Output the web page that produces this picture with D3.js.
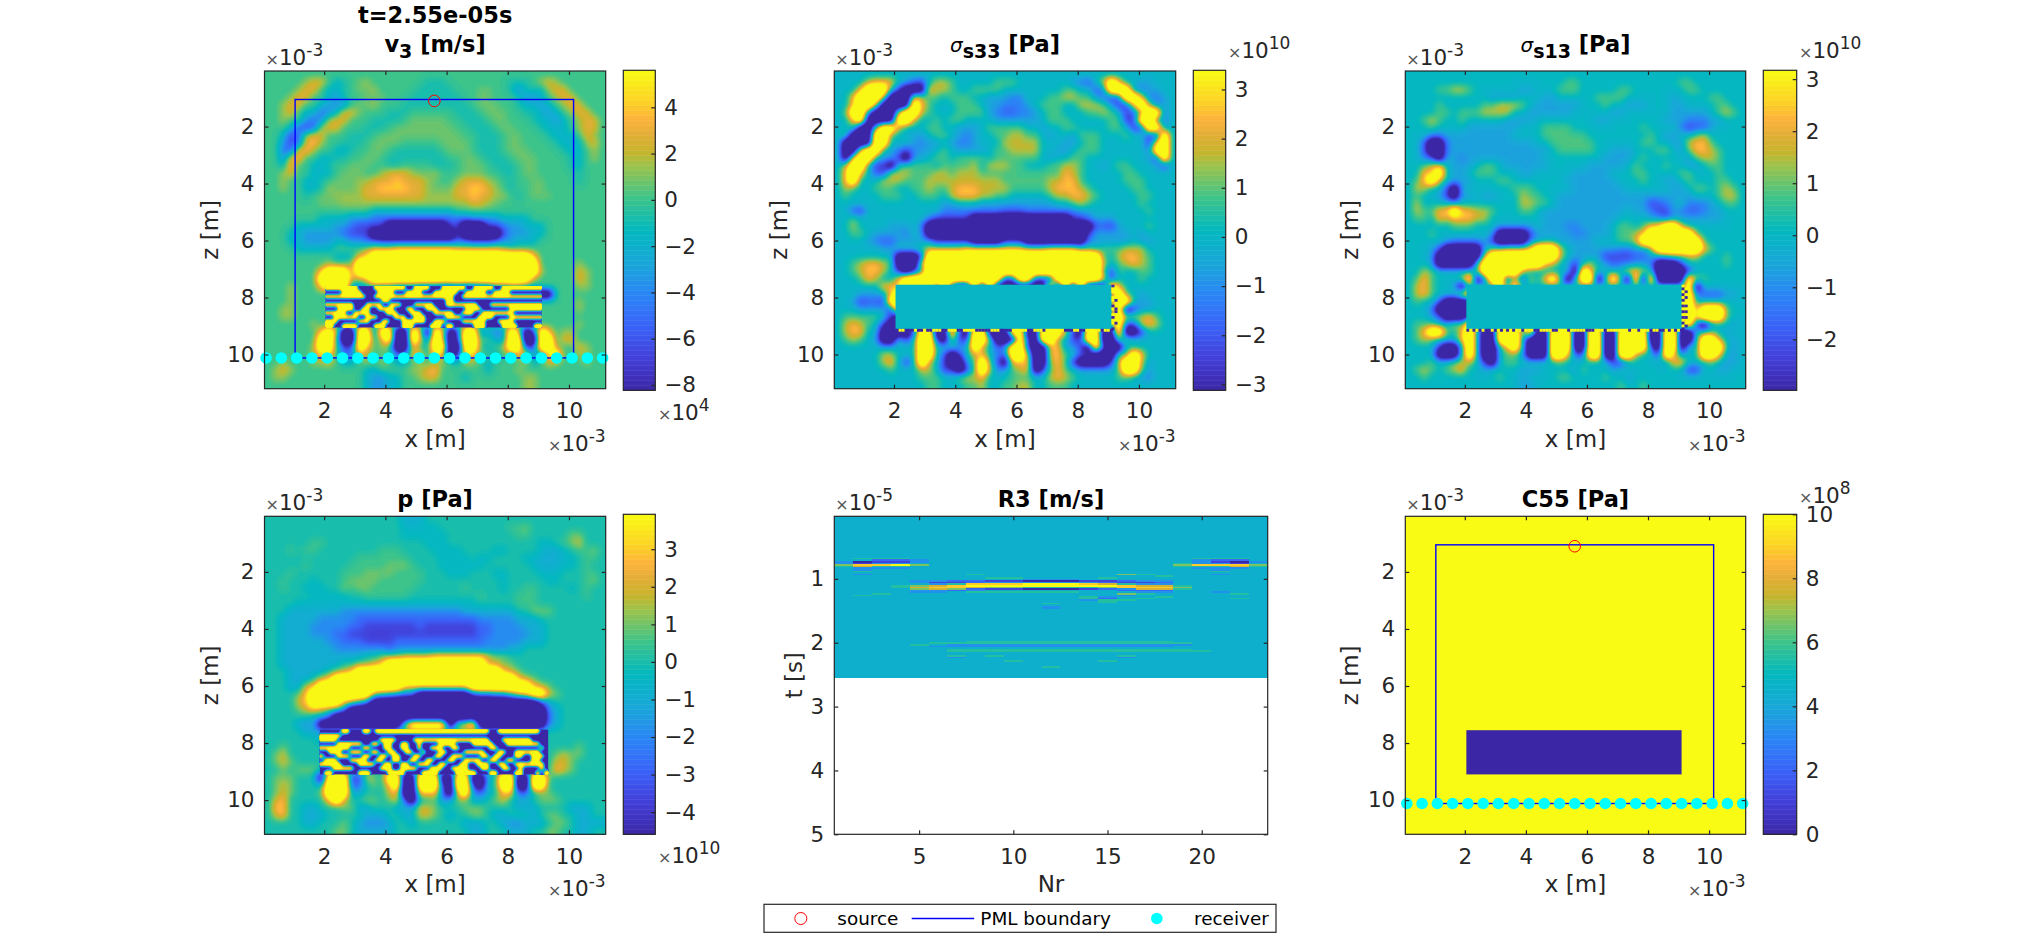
<!DOCTYPE html>
<html>
<head>
<meta charset="utf-8">
<script src="https://cdn.jsdelivr.net/npm/d3@7"></script>
<style>
body { margin: 0; background: #fff; }
text { font-family: "DejaVu Sans", sans-serif; fill: #262626; }
</style>
</head>
<body>
<svg id="fig" width="2031" height="938">
  <defs><filter id="rowSoft" x="0" y="0" width="1" height="1"><feGaussianBlur stdDeviation="0 0.4"/></filter></defs>
</svg>
<script>
// fields on a coarse grid, one digit a cell
// 0 = colour bar bottom, 5 = zero, 9 = colour bar top, a and b = 4.5 and 5.5
var v3Rows = [
"55555 55555 55555 55555 55555 55555 55555 55555 55555",
"55555 67754 a5b65 55555 5aaa5 55555 55aaa 56765 55555",
"55556 77544 a5bb6 55555 aaaaa 555bb 55a3a a4677 55555",
"55567 75543 a55bb b555a aaaaa a55bb 555a3 34567 75555",
"55677 55433 35bb6 555aa aaaaa aa5bb b55a4 43456 77555",
"55675 44234 77b55 5aaa5 55555 aaa5b bb55a a4345 67755",
"55655 32367 7555a aaa5b bbbb5 5aaa5 bb555 a4434 56775",
"55542 12677 555aa a5bbb bbbbb 55aaa 5bb55 5a444 56775",
"55412 67755 5aaa5 bbbbb bbbbb b55aa a5bb5 55a44 45765",
"55312 78655 aaa5b bbb55 555bb bb5aa a5bb5 555a4 44675",
"55227 86554 4a55b b5aaa aaa5b bb5aa a5bbb 5555a 44565",
"55378 5544a a55bb 5aaaa aaaa5 5bb5a aa5bb b5555 a4565",
"55485 544a5 5bbb5 5aa55 55aaa 5bbb5 aaa5b b5555 a4555",
"55675 54445 bbb55 67776 bb655 5bbb5 5aa5b b5555 5a555",
"55655 44a5b bb667 77877 76b55 67776 b5a55 bb555 5a555",
"55655 44a6b bb677 88887 76bbb 77887 65a55 bb555 55555",
"55555 a5bb6 66677 77777 76666 77877 665a5 bbb55 55555",
"55555 55bbb 66666 66666 66666 66776 b5555 55555 55555",
"55555 55555 55554 44444 44444 55555 55555 55555 55555",
"55555 55444 43332 22222 22222 22333 34444 55555 55555",
"55554 44443 32111 10000 00001 10001 12334 44555 55555",
"55544 33333 21110 00000 00000 10000 01333 44555 55555",
"55544 33334 43322 11111 11111 22111 23344 45555 55555",
"55554 44445 55567 77888 88888 77777 76555 55555 55555",
"55555 55554 44789 99999 99999 99999 99999 85555 55555",
"55555 55565 56999 99999 99999 99999 99999 95555 56555",
"55555 55899 96999 99999 99999 99999 99999 96555 57655",
"55555 55999 97689 99999 99999 99999 99999 65555 57655",
"55565 55899 93345 44333 22211 21122 44554 45555 56655",
"55565 55549 91110 01000 00000 00000 00000 00055 55555",
"55565 55555 55555 55555 55555 55555 55555 55555 56555",
"55665 55555 55555 55555 55555 55555 55555 55555 56555",
"55665 55555 55555 55555 55555 55555 55555 55555 55555",
"55555 56555 55555 55555 55555 55555 55555 55555 56555",
"55555 55897 00992 99009 80980 19934 23980 19856 65555",
"55555 55995 00994 79009 82980 19955 43990 09957 75555",
"55555 56995 11985 65008 54990 09954 56991 19965 57655",
"55555 56885 22765 56237 84880 18855 45578 33895 56655",
"55655 56675 44565 65445 65665 46654 55556 45765 55655",
"56765 55555 55544 55556 67855 55554 55565 55555 55555",
"56655 55555 55543 34455 67755 54555 55556 65555 55555",
"55555 55555 55543 34455 55555 55555 55556 65555 55555"
];
var v3Block = [
"999999 990000 999999 990099 990009 999990 099999 009999 999999",
"000099 999000 099990 009999 000999 999009 999900 999900 000000",
"999999 999900 999999 999999 999999 990099 999999 999999 999999",
"000000 000000 009900 000000 000000 990000 000000 000000 000000",
"999999 900099 990099 900099 999000 999999 990009 999999 999999",
"000999 900990 099990 009900 099900 000009 999000 000099 999999",
"999990 099990 000999 000999 000999 990099 900999 999990 000000",
"009999 990099 900009 990099 900000 999900 009999 000099 999999",
"999000 009990 009900 099999 900999 000099 999900 099990 000000",
"990099 990000 999000 099900 009990 990000 099900 009999 000099"
];
var s33Rows = [
"55555 55555 55555 55555 55555 55555 55555 55555 55555",
"55557 88854 21577 65555 56665 55555 54325 79855 44555",
"55589 99510 00877 65566 66555 55555 66552 39994 34455",
"55899 97000 87665 66655 44433 55566 77664 31299 83345",
"55899 70000 98655 56665 44333 45666 55777 64118 97345",
"56993 00079 97655 56666 43223 34566 55566 76512 79935",
"55890 00099 75565 66555 54444 44566 65555 56611 99535",
"55600 69975 55665 54445 66666 55455 66555 56651 19945",
"56000 99655 44566 54345 56677 66545 54666 55565 51195",
"50000 99555 43445 43345 55777 77555 44566 55555 51895",
"50089 95431 34456 54444 56677 77554 45666 55555 53995",
"50899 54410 44566 56666 56666 66545 56655 55555 54195",
"57995 11056 66656 66675 77766 55566 77655 45665 55415",
"58985 21777 66677 67776 66666 66666 87655 55566 55555",
"58955 57776 66777 77777 77666 66677 88655 55566 65555",
"57655 66655 66766 78887 77766 66678 88765 55556 65555",
"56555 56665 56665 78887 76655 55567 78876 55555 66555",
"55555 55555 55554 45554 44444 44445 56765 55555 65555",
"55215 55555 55553 33333 33222 33333 33445 55555 56555",
"55655 55555 55311 11100 00000 00000 01134 44555 55555",
"55755 55444 53000 00000 00000 00000 00002 21455 56555",
"55665 44443 54000 00000 00000 00000 00014 44445 45555",
"55554 32244 44411 11100 00111 00000 00034 44445 44555",
"55555 54455 56777 77888 88888 77788 88665 66677 75555",
"55555 55500 01999 99999 99999 99999 99999 65788 76555",
"55678 87600 07999 99999 99999 99999 99999 75678 76555",
"55678 87510 15999 99999 99999 99999 99999 61655 66555",
"55568 75589 99999 99999 99119 91119 99999 81555 65555",
"55555 58889 99929 20090 90000 00090 90900 09855 55555",
"55544 44895 55555 55555 55555 55555 55555 55965 45555",
"55412 21995 55555 55555 55555 55555 55555 55995 44555",
"55544 44195 55555 55555 55555 55555 55555 55901 44555",
"56666 65105 55555 55555 55555 55555 55555 55977 78655",
"57876 51005 55555 55555 55555 55555 55555 55911 78755",
"57885 50000 19900 91099 00099 00999 71099 00900 15555",
"56765 40051 59910 71199 60009 10996 51199 00665 55555",
"55555 54455 59955 54497 52399 10088 44109 10055 55555",
"55555 57755 59952 01578 53299 70088 65210 00669 85555",
"55555 57851 59751 00469 62088 80078 61000 01799 74555",
"55555 55655 57751 10169 73467 80168 65444 44699 64555",
"55555 55555 56665 56778 55566 65578 76555 55665 43555",
"55555 55555 55665 55667 55667 75566 65555 55555 55555"
];
var s33Bottom = "09900090090099900999009999000009990000999990099909999990009900999990990";
var s33RightA = "0995995095909950";
var s33RightB = "5955905500959055";
var s13Rows = [
"55555 55555 55555 55555 55555 55555 55555 55555 55555",
"55555 55555 55555 55555 56655 55555 55555 56655 55555",
"55556 67765 55555 44555 66655 55566 55555 55665 55555",
"55555 55555 54444 55544 55555 66665 55555 45555 66555",
"55556 55555 66777 65444 44455 56554 44555 44555 56655",
"55556 65666 77775 54444 44555 55445 55555 44444 56765",
"55676 55655 55544 44555 55555 44555 55554 44333 44555",
"55565 55544 44444 55566 66555 55555 56555 53122 45555",
"55533 44444 44445 55566 66665 55555 55654 45567 55555",
"55200 34444 44444 44556 66666 55555 56655 44788 65555",
"55200 34444 44444 44445 66666 55444 55566 54688 76555",
"55320 44344 44444 44455 55555 54444 56555 55467 76555",
"55678 54445 66544 44445 55554 44445 65556 55445 66555",
"55889 54456 66555 44555 55444 44555 66555 56655 56555",
"56897 54445 55665 55555 54444 44455 56554 45655 56655",
"57755 20455 55556 66555 55444 44445 55555 44566 56765",
"56554 10445 44555 76655 44444 44444 44444 44455 56775",
"57555 54555 55555 77665 44444 44444 44123 45333 45665",
"57668 89887 76555 66544 44444 44445 44311 43223 44555",
"56658 78887 75555 55544 44444 44455 55442 44444 44555",
"55555 56665 55444 44544 43344 44566 56889 97555 55555",
"55565 55555 54000 01444 44334 44566 78999 99965 55555",
"55555 43333 41000 03455 44444 55566 79999 99996 55555",
"55542 00000 46677 78999 75444 44433 44699 99998 65555",
"55540 00000 79999 99999 75444 41111 22445 66775 55655",
"55540 00005 99999 99987 54157 54233 44300 01555 55655",
"55765 55556 99999 75555 55098 55558 87500 00155 55555",
"56865 55690 39917 17589 60599 05950 90900 00966 55555",
"57865 54055 55959 55555 55555 55555 55555 55905 55555",
"57865 55895 55555 55555 55555 55555 55555 55932 22445",
"56552 00005 55555 55555 55555 55555 55555 55955 55555",
"55530 00005 55555 55555 55555 55555 55555 55979 99655",
"55542 00015 55555 55555 55555 55555 55555 55989 99655",
"56665 57695 55555 55555 55555 55555 55555 55910 45545",
"56899 65895 00999 59009 99009 90099 99009 90055 65455",
"56765 55895 00999 50009 99009 90099 99009 90059 97545",
"55551 00595 00589 50009 99009 90099 99109 90559 99545",
"55550 00595 00566 40009 98229 90099 75519 84559 98445",
"55565 56775 10566 55555 65555 55115 55554 88555 65445",
"56765 67855 45555 44455 55465 55455 55555 55115 54455",
"55655 55555 55655 45555 66555 56554 55555 55555 55555",
"55555 55555 55555 44555 55555 55565 56555 55555 55555"
];
var s13Bottom = "09090900909090909909990099990099909999900099909999999099099909900909090";
var s13RightA = "9090909090909090";
var s13RightB = "5909059090905905";
var pRows = [
"55555 55555 55555 55544 45555 55555 55555 55555 55555",
"55555 55555 55555 555aa aaa55 55555 55bb6 55555 55555",
"55555 55555 55555 555aa aaaa5 55555 555bb 55555 66555",
"55555 5bb55 55555 55555 5aaa5 55555 55555 5aa5b 67555",
"555b5 bb555 55555 bbb55 55aaa a5555 aa555 5a44a 5bb65",
"55555 55555 55bbb bbbb5 555aa aa5aa 5555a a444a a5bb5",
"55555 b5555 5bbbb b666b 555aa aaaa5 55555 a444a a5b55",
"555b5 55555 bbb66 66bbb b555a aa555 aa555 5aaa5 55bb5",
"55b55 5a555 b6666 bbbbb b5555 55555 5a555 55aa5 55b65",
"55b55 aaa55 6b66b bbbbb 55555 5b555 5a55b b5555 a5b55",
"55555 5aaaa a55bb bbbb5 55555 555b5 555bb b5555 55b55",
"5555a aaaaa aaaaa aaaaa aaaaa aaa55 555bb b5555 55555",
"55544 44444 33333 33333 33333 34444 44455 66655 55555",
"55444 44333 33222 22222 22222 22233 33344 45555 55555",
"55444 43333 32211 11111 21111 11122 33334 44555 55555",
"55444 43332 21111 11111 11111 11122 33333 44555 55555",
"55444 44433 22211 11222 22222 22223 33334 44555 55555",
"55444 44443 33333 32333 33333 33333 33445 55555 55555",
"55444 44444 44455 66677 77888 88887 66555 55555 55555",
"55444 44444 55667 89999 99999 99997 76655 55555 55555",
"55544 44456 78999 99999 99999 99999 98765 55555 55555",
"55544 45789 99999 99999 99999 99999 99987 65555 55555",
"55544 78999 99999 99988 88888 88999 99999 87655 55555",
"55556 89999 99996 54322 00000 00122 33578 99765 55555",
"55557 89999 87530 00000 00000 00000 00000 02455 55555",
"55556 78765 30000 00000 00000 00000 00000 00345 55555",
"55555 54420 00000 00000 00000 00000 00000 00245 55555",
"55554 34000 00000 00069 99990 78900 00000 00345 55555",
"55555 44455 55555 55555 55555 55555 55555 55555 55555",
"55555 55455 55555 55555 55555 55555 55555 55555 55555",
"55655 55555 55555 55555 55555 55555 55555 55555 56555",
"56755 55555 55555 55555 55555 55555 55555 55567 66555",
"56765 55555 55555 55555 55555 55555 55555 55577 65555",
"55656 66555 55555 55555 55555 55555 55555 55587 65555",
"56665 55099 91176 59900 99900 99004 59900 99655 55555",
"56765 55499 92256 58900 99910 99105 59900 99555 55555",
"56765 55699 94455 57800 88820 89324 58822 56655 55555",
"57855 55589 75566 56720 55634 66445 67544 56665 55555",
"58855 44555 66445 55444 77655 56665 55544 45555 44455",
"57855 44455 55544 45544 77654 55665 44555 45665 54455",
"55555 44555 65433 34554 55555 54445 54334 44566 54444",
"55555 55556 65444 44555 55555 55445 55444 55665 54455"
];
var pBlock = [
"000009 900099 099999 999999 999999 999999 999900 999999 999900",
"999990 000000 000000 000000 000000 000000 000000 000000 000000",
"999900 000000 009999 000099 999999 999999 999900 099999 990000",
"000099 999900 990990 099009 000099 990000 999990 009999 999900",
"999999 900099 000990 099009 009990 099000 000099 000000 000090",
"009990 099900 990099 009900 900099 000099 999000 990099 999900",
"900099 900099 009909 900099 000990 099900 009909 900099 009990",
"099900 099990 099009 900990 099000 990099 990099 009900 009900",
"999990 000999 900990 099009 990099 000990 099900 990099 999990",
"000999 990000 009990 099990 009990 099990 009900 099009 000090",
"099000 000999 000099 990000 999900 009999 900099 000099 000909"
];
// receiver traces, digit = tenth of the colour range, columns are Nr 1..23
var q = "44444 44444 44444 44444 444";
var r3Rows = [
q, q, q, q, q, q, q, q, q, q, q, q, q, q, q, q, q, q, q, q, q, q, q, q, q, q,
"45554 44444 44444 44445 554",
"44223 44444 44444 44443 224",
"30113 44444 44444 44443 103",
"31334 44444 44444 44453 314",
"68896 44444 44444 44468 886",
"57554 44444 44444 44455 575",
"43334 44444 44444 44443 334",
"43444 44444 44444 44444 344",
"45444 44444 44444 44444 544",
"44444 44444 44444 44444 444",
"43444 44544 44444 65444 344",
"44444 44444 44444 44544 444",
"44444 44455 44445 44444 444",
"44444 44444 33344 44444 444",
"44443 32211 00011 23344 444",
"44443 11233 33332 11244 444",
"44444 35888 99987 53344 444",
"44456 78999 99999 87754 444",
"44457 88766 55556 88864 444",
"44446 76211 00012 37754 444",
"44443 32344 44444 22244 444",
"44443 34555 55544 43344 344",
"44544 44444 44444 65444 454",
"45444 44444 44444 34444 444",
"44444 44444 44453 44544 444",
"44444 44444 44452 45444 454",
"44444 44444 44435 54444 444",
"44444 44444 44445 44444 444",
"44444 44444 45444 44444 444",
"44444 44444 44444 44444 444",
"44444 44444 43444 44444 444",
"44444 44444 43444 44444 444",
q, q, q, q, q, q, q, q, q, q, q, q, q, q, q, q, q, q, q, q,
"44444 44555 55555 55544 444",
"44444 55555 55555 55554 444",
"44445 43333 33333 33334 444",
"44444 33333 33333 33344 444",
q,
"44444 45555 55555 55554 444",
"44444 45555 55555 55555 444",
q,
q,
"44444 45454 44444 54444 444",
"44444 43444 44444 34444 444",
q,
"44444 44445 44445 44444 444",
q, q, q,
"44444 44444 45444 44444 444",
q, q, q, q, q, q
];

var v3Limits = [-8.23, 5.6];
var s33Limits = [-3.12, 3.39];
var s13Limits = [-2.98, 3.17];
var pLimits = [-4.59, 3.93];
var c55Limits = [0, 10];

var xDomain = [0.05, 11.2];
var zDomain = [0.05, 11.2];
var gridTicks = [2, 4, 6, 8, 10];
var nrDomain = [0.5, 23.5];
var nrTicks = [5, 10, 15, 20];
var tDomain = [0.02, 5];
var tTicks = [1, 2, 3, 4, 5];
var tStart = 0.02;
var tStep = 0.025;

var receiverX = [0.1, 0.6, 1.1, 1.6, 2.1, 2.6, 3.1, 3.6, 4.1, 4.6, 5.1, 5.6, 6.1, 6.6, 7.1, 7.6, 8.1, 8.6, 9.1, 9.6, 10.1, 10.6, 11.1];
var receiverZ = 10.12;
var sourceX = 5.6;
var sourceZ = 1.1;
var pmlX = [1.05, 10.15];
var pmlZ = [1.05, 10.12];
var blockX = [2.05, 9.1];
var blockZ = [7.55, 9.1];
var edgeStep = 0.1;

var parulaStops = [0, 0.1, 0.2, 0.3, 0.4, 0.5, 0.6, 0.7, 0.75, 0.8, 0.85, 0.9, 1];
var parulaColors = ["#3b27a5", "#433fd8", "#3a63f8", "#2a85f5", "#18a8d8", "#03b8bf", "#3cc48c", "#9bc34d", "#c9b42c", "#e3ae38", "#fdb33b", "#fcd126", "#f9fb14"];
var parula = d3.scaleLinear().domain(parulaStops).range(parulaColors).clamp(true);

var svg = d3.select("#fig");
var textColor = "#262626";
var tickFont = 21.5;
var labelFont = 23;
var titleFont = 22.5;
var powerFont = 17;
var halfDigits = { a: 4.5, b: 5.5 };

function clean(rows) {
  return rows.map(function(r) { return r.replace(/ /g, ""); });
}

// saturated cells run past the colour limits in the original, hence the 1.8
function digitValue(c, limits) {
  var d = c in halfDigits ? halfDigits[c] : +c;
  if (d == 0) return limits[0] * 1.8;
  if (d == 9) return limits[1] * 1.8;
  return d < 5 ? limits[0] * (5 - d) / 5 : limits[1] * (d - 5) / 4;
}

// smooth shading of the cells: each cell repeated, blurred, then isobands
function drawField(g, rows, x, z, xr, zr, limits, soft) {
  rows = clean(rows);
  var f = 3;
  var n = rows[0].length, m = rows.length;
  var nf = n * f, mf = m * f;
  var values = new Float64Array(nf * mf);
  for (var j = 0; j < mf; j++) {
    var r = rows[Math.floor(j / f)];
    for (var i = 0; i < nf; i++) values[j * nf + i] = digitValue(r[Math.floor(i / f)] || "5", limits);
  }
  if (d3.blur2) d3.blur2({ data: values, width: nf, height: mf }, soft);
  var levels = d3.range(0, 64).map(function(i) { return limits[0] + i / 64 * (limits[1] - limits[0]); });
  var contours = d3.contours().size([nf, mf]).thresholds(levels)(values);
  var proj = d3.geoTransform({
    point: function(a, b) {
      this.stream.point(x(xr[0] + a / nf * (xr[1] - xr[0])), z(zr[0] + b / mf * (zr[1] - zr[0])));
    }
  });
  var path = d3.geoPath(proj);
  g.append("rect").attr("x", x(xr[0])).attr("y", z(zr[0]))
    .attr("width", x(xr[1]) - x(xr[0])).attr("height", z(zr[1]) - z(zr[0]))
    .attr("fill", parula(0));
  g.append("g").selectAll("path").data(contours).enter().append("path")
    .attr("d", path)
    .attr("fill", function(d, i) { return parula((i + 0.5) / 64); });
}

// flat block where the shear stress is zero, with its stair-step rim
function drawBlock(g, s, limits, bottom, rightA, rightB) {
  g.append("rect").attr("x", s.x(blockX[0])).attr("y", s.z(blockZ[0]))
    .attr("width", s.x(blockX[1]) - s.x(blockX[0])).attr("height", s.z(blockZ[1]) - s.z(blockZ[0]))
    .attr("fill", parula(d3.scaleLinear().domain(limits)(0)));
  var rim = [];
  bottom.split("").forEach(function(c, i) { rim.push({ x: blockX[0] + i * edgeStep, z: blockZ[1], c: c }); });
  rightA.split("").forEach(function(c, i) { rim.push({ x: blockX[1], z: blockZ[0] + i * edgeStep, c: c }); });
  rightB.split("").forEach(function(c, i) { rim.push({ x: blockX[1] + edgeStep, z: blockZ[0] + i * edgeStep, c: c }); });
  g.append("g").selectAll("rect").data(rim.filter(function(d) { return d.c != "5"; })).enter().append("rect")
    .attr("x", function(d) { return s.x(d.x); })
    .attr("y", function(d) { return s.z(d.z); })
    .attr("width", s.x(edgeStep) - s.x(0))
    .attr("height", s.z(edgeStep) - s.z(0))
    .attr("fill", function(d) { return parula(+d.c / 9); });
}

function sciLabel(g, px, py, power, anchor) {
  var t = g.append("text").attr("x", px).attr("y", py).attr("text-anchor", anchor || "start").style("font-size", tickFont + "px");
  t.append("tspan").text("\u00d7").style("font-size", "16px").style("fill", "#555");
  t.append("tspan").text("10");
  t.append("tspan").text(power).attr("dy", -9).style("font-size", powerFont + "px");
}

function drawAxes(g, box, x, z, xTicks, zTicks) {
  g.append("rect").attr("x", box.x).attr("y", box.y).attr("width", box.w).attr("height", box.h)
    .attr("fill", "none").attr("stroke", textColor).attr("stroke-width", 1.2);
  var bottom = g.append("g").attr("transform", "translate(0," + (box.y + box.h) + ")")
    .call(d3.axisBottom(x).tickValues(xTicks).tickSize(-4).tickSizeOuter(0).tickPadding(14).tickFormat(d3.format("d")));
  var left = g.append("g").attr("transform", "translate(" + box.x + ",0)")
    .call(d3.axisLeft(z).tickValues(zTicks).tickSize(-4).tickSizeOuter(0).tickPadding(10).tickFormat(d3.format("d")));
  var top = g.append("g").attr("transform", "translate(0," + box.y + ")")
    .call(d3.axisTop(x).tickValues(xTicks).tickSize(-4).tickSizeOuter(0).tickFormat(""));
  var right = g.append("g").attr("transform", "translate(" + (box.x + box.w) + ",0)")
    .call(d3.axisRight(z).tickValues(zTicks).tickSize(-4).tickSizeOuter(0).tickFormat(""));
  [bottom, left, top, right].forEach(function(a) {
    a.select(".domain").remove();
    a.selectAll("line").attr("stroke", textColor).attr("stroke-width", 1.2);
    a.selectAll("text").style("font-size", tickFont + "px").style("font-family", "DejaVu Sans").style("fill", textColor);
  });
  top.selectAll("text").remove();
  right.selectAll("text").remove();
}

function drawColorbar(g, bar, limits, ticks, power, powerAt) {
  var c = d3.scaleLinear().domain(limits).range([bar.y + bar.h, bar.y]);
  var steps = d3.range(0, 64);
  g.append("g").selectAll("rect").data(steps).enter().append("rect")
    .attr("x", bar.x).attr("width", bar.w)
    .attr("y", function(i) { return bar.y + bar.h - (i + 1) / 64 * bar.h; })
    .attr("height", bar.h / 64 + 0.5)
    .attr("fill", function(i) { return parula((i + 0.5) / 64); });
  g.append("rect").attr("x", bar.x).attr("y", bar.y).attr("width", bar.w).attr("height", bar.h)
    .attr("fill", "none").attr("stroke", textColor).attr("stroke-width", 1.2);
  var ax = g.append("g").attr("transform", "translate(" + (bar.x + bar.w) + ",0)")
    .call(d3.axisRight(c).tickValues(ticks).tickSize(-4).tickSizeOuter(0).tickPadding(9).tickFormat(d3.format("d")));
  ax.select(".domain").remove();
  ax.selectAll("line").attr("stroke", textColor).attr("stroke-width", 1.2);
  ax.selectAll("text").style("font-size", tickFont + "px").style("font-family", "DejaVu Sans").style("fill", textColor);
  sciLabel(g, powerAt[0], powerAt[1], power);
}

function labels(g, box, xText, zText, power, xPower, zGap) {
  g.append("text").attr("x", box.x + box.w / 2).attr("y", box.y + box.h + 58)
    .attr("text-anchor", "middle").style("font-size", labelFont + "px").text(xText);
  g.append("text").attr("transform", "translate(" + (box.x - zGap) + "," + (box.y + box.h / 2) + ") rotate(-90)")
    .attr("text-anchor", "middle").style("font-size", labelFont + "px").text(zText);
  sciLabel(g, box.x + 1, box.y - 6, power);
  if (xPower) sciLabel(g, box.x + box.w, box.y + box.h + 62, xPower, "end");
}

function title(g, box, y, main, sub, tail, sigma) {
  var t = g.append("text").attr("x", box.x + box.w / 2).attr("y", y).attr("text-anchor", "middle")
    .style("font-size", titleFont + "px").style("font-weight", "bold").style("fill", "#000");
  if (sigma) {
    t.append("tspan").text(main).style("font-style", "italic").style("font-weight", "normal").style("font-size", "20px").style("fill", "#000");
  } else {
    t.append("tspan").text(main).style("fill", "#000");
  }
  if (sub) {
    t.append("tspan").text(sub).attr("dy", 6).style("font-size", "19px").style("fill", "#000");
    t.append("tspan").text(tail).attr("dy", -6).style("fill", "#000");
  }
}

function overlays(g, x, z) {
  g.append("rect").attr("x", x(pmlX[0])).attr("y", z(pmlZ[0]))
    .attr("width", x(pmlX[1]) - x(pmlX[0])).attr("height", z(pmlZ[1]) - z(pmlZ[0]))
    .attr("fill", "none").attr("stroke", "#0000ff").attr("stroke-width", 1.4);
  g.append("g").selectAll("circle").data(receiverX).enter().append("circle")
    .attr("cx", function(d) { return x(d); }).attr("cy", z(receiverZ)).attr("r", 5.8).attr("fill", "#00ffff");
  g.append("circle").attr("cx", x(sourceX)).attr("cy", z(sourceZ)).attr("r", 5.8)
    .attr("fill", "none").attr("stroke", "#ff0000").attr("stroke-width", 1);
}

function fieldScales(box) {
  return {
    x: d3.scaleLinear().domain(xDomain).range([box.x, box.x + box.w]),
    z: d3.scaleLinear().domain(zDomain).range([box.y, box.y + box.h])
  };
}

var boxA = { x: 264.5, y: 71, w: 341.2, h: 317.7 };
var boxB = { x: 834.3, y: 71, w: 341.4, h: 317.7 };
var boxC = { x: 1405.3, y: 71, w: 340.4, h: 317.7 };
var boxD = { x: 264.5, y: 516.3, w: 341.2, h: 318 };
var boxE = { x: 834.3, y: 516.3, w: 433.4, h: 318 };
var boxF = { x: 1405.3, y: 516.3, w: 340.4, h: 318 };

// v3
var g1 = svg.append("g");
var s1 = fieldScales(boxA);
drawField(g1, v3Rows, s1.x, s1.z, xDomain, zDomain, v3Limits, 1);
drawField(g1, v3Block, s1.x, s1.z, blockX, [7.6, 9.05], v3Limits, 0.7);
overlays(g1, s1.x, s1.z);
drawAxes(g1, boxA, s1.x, s1.z, gridTicks, gridTicks);
labels(g1, boxA, "x [m]", "z [m]", "-3", "-3", 47);
title(g1, boxA, 23, "t=2.55e-05s");
title(g1, boxA, 52, "v", "3", " [m/s]");
drawColorbar(g1, { x: 623.3, y: 70.3, w: 32, h: 320 }, v3Limits, [-8, -6, -4, -2, 0, 2, 4], "4", [658, 420]);

// sigma s33
var g2 = svg.append("g");
var s2 = fieldScales(boxB);
drawField(g2, s33Rows, s2.x, s2.z, xDomain, zDomain, s33Limits, 1);
drawBlock(g2, s2, s33Limits, s33Bottom, s33RightA, s33RightB);
drawAxes(g2, boxB, s2.x, s2.z, gridTicks, gridTicks);
labels(g2, boxB, "x [m]", "z [m]", "-3", "-3", 47);
title(g2, boxB, 52, "\u03c3", "s33", " [Pa]", true);
drawColorbar(g2, { x: 1193.3, y: 70.3, w: 32.4, h: 320 }, s33Limits, [-3, -2, -1, 0, 1, 2, 3], "10", [1228, 58]);

// sigma s13
var g3 = svg.append("g");
var s3 = fieldScales(boxC);
drawField(g3, s13Rows, s3.x, s3.z, xDomain, zDomain, s13Limits, 1);
drawBlock(g3, s3, s13Limits, s13Bottom, s13RightA, s13RightB);
drawAxes(g3, boxC, s3.x, s3.z, gridTicks, gridTicks);
labels(g3, boxC, "x [m]", "z [m]", "-3", "-3", 47);
title(g3, boxC, 52, "\u03c3", "s13", " [Pa]", true);
drawColorbar(g3, { x: 1763.3, y: 70.3, w: 33.4, h: 320 }, s13Limits, [-2, -1, 0, 1, 2, 3], "10", [1799, 58]);

// p
var g4 = svg.append("g");
var s4 = fieldScales(boxD);
drawField(g4, pRows, s4.x, s4.z, xDomain, zDomain, pLimits, 1);
drawField(g4, pBlock, s4.x, s4.z, [1.86, 9.32], [7.53, 9.1], pLimits, 0.7);
drawAxes(g4, boxD, s4.x, s4.z, gridTicks, gridTicks);
labels(g4, boxD, "x [m]", "z [m]", "-3", "-3", 47);
title(g4, boxD, 507, "p [Pa]");
drawColorbar(g4, { x: 623.3, y: 514.3, w: 32, h: 320 }, pLimits, [-4, -3, -2, -1, 0, 1, 2, 3], "10", [658, 863]);

// R3 traces
var g5 = svg.append("g");
var xNr = d3.scaleLinear().domain(nrDomain).range([boxE.x, boxE.x + boxE.w]);
var zT = d3.scaleLinear().domain(tDomain).range([boxE.y, boxE.y + boxE.h]);
var cells = [];
clean(r3Rows).forEach(function(r, ri) {
  for (var k = 0; k < r.length; k++) cells.push({ nr: k + 1, t: tStart + ri * tStep, v: +r[k] });
});
g5.append("g").attr("filter", "url(#rowSoft)").selectAll("rect").data(cells).enter().append("rect")
  .attr("x", function(d) { return xNr(d.nr - 0.5); })
  .attr("width", xNr(1) - xNr(0))
  .attr("y", function(d) { return zT(d.t); })
  .attr("height", zT(tStep) - zT(0))
  .attr("shape-rendering", "crispEdges")
  .attr("fill", function(d) { return parula(d.v / 9); });
drawAxes(g5, boxE, xNr, zT, nrTicks, tTicks);
labels(g5, boxE, "Nr", "t [s]", "-5", null, 32);
title(g5, boxE, 507, "R3 [m/s]");

// C55
var g6 = svg.append("g");
var s6 = fieldScales(boxF);
g6.append("rect").attr("x", boxF.x).attr("y", boxF.y).attr("width", boxF.w).attr("height", boxF.h).attr("fill", parula(1));
g6.append("rect").attr("x", s6.x(blockX[0])).attr("y", s6.z(blockZ[0]))
  .attr("width", s6.x(blockX[1]) - s6.x(blockX[0])).attr("height", s6.z(blockZ[1]) - s6.z(blockZ[0]))
  .attr("fill", parula(0));
overlays(g6, s6.x, s6.z);
drawAxes(g6, boxF, s6.x, s6.z, gridTicks, gridTicks);
labels(g6, boxF, "x [m]", "z [m]", "-3", "-3", 47);
title(g6, boxF, 507, "C55 [Pa]");
drawColorbar(g6, { x: 1763.3, y: 514.3, w: 33.4, h: 320 }, c55Limits, [0, 2, 4, 6, 8, 10], "8", [1799, 503]);

// legend
var leg = svg.append("g");
leg.append("rect").attr("x", 764).attr("y", 904.3).attr("width", 512).attr("height", 28)
  .attr("fill", "#fff").attr("stroke", textColor).attr("stroke-width", 1.2);
leg.append("circle").attr("cx", 800.8).attr("cy", 918.5).attr("r", 6).attr("fill", "none").attr("stroke", "#ff0000").attr("stroke-width", 1);
leg.append("text").attr("x", 837.3).attr("y", 925).style("font-size", "18.4px").style("fill", "#000").text("source");
leg.append("line").attr("x1", 911.7).attr("x2", 974.2).attr("y1", 918.5).attr("y2", 918.5).attr("stroke", "#0000ff").attr("stroke-width", 1.4);
leg.append("text").attr("x", 980.3).attr("y", 925).style("font-size", "18.4px").style("fill", "#000").text("PML boundary");
leg.append("circle").attr("cx", 1156.8).attr("cy", 918.5).attr("r", 5.8).attr("fill", "#00ffff");
leg.append("text").attr("x", 1194).attr("y", 925).style("font-size", "18.4px").style("fill", "#000").text("receiver");
</script>
</body>
</html>
